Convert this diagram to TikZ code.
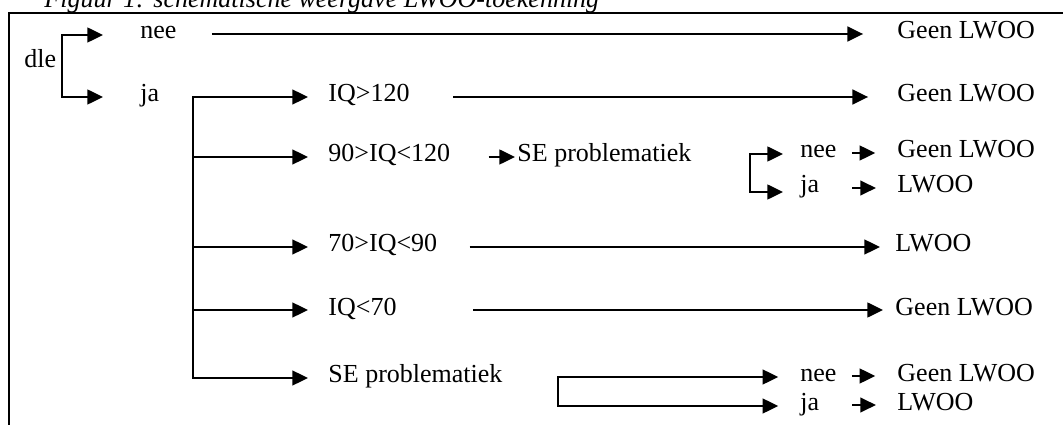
\documentclass[tikz,border=0pt]{standalone}
\usepackage{fontspec}
\setmainfont{Liberation Serif}
\usetikzlibrary{arrows.meta}
\begin{document}
\begin{tikzpicture}[x=0.46pt,y=-0.46pt,
  lbl/.style={anchor=base west,inner sep=0pt,text height=6pt,text depth=1.4pt,
              font=\fontsize{11.96pt}{14pt}\selectfont},
  ln/.style={line width=0.9pt},
  arr/.style={ln,-{Triangle[length=7.2pt,width=6.8pt]}},
  frame/.style={line width=1pt}]
\useasboundingbox (0,0) rectangle (1063,425);
% caption and frame
\node[lbl,font=\fontsize{11.96pt}{14pt}\selectfont\itshape] (capt) at (44,8) {Figuur 1: schematische weergave LWOO-toekenning};
\coordinate (ftl) at (9,13);
\coordinate (ftr) at (1063,13);
\coordinate (fbl) at (9,425);
\draw[frame] (fbl) -- (ftl) -- (ftr);
% labels
\node[lbl] (dle) at (24,68) {dle};
\node[lbl] (nee1) at (140,39) {nee};
\node[lbl] (ja1) at (140,102) {ja};
\node[lbl] (geen1) at (897,39) {Geen LWOO};
\node[lbl] (iq120) at (328,102) {IQ>120};
\node[lbl] (geen2) at (897,102) {Geen LWOO};
\node[lbl] (iq90) at (328,162) {90>IQ<120};
\node[lbl] (se1) at (517,162) {SE problematiek};
\node[lbl] (nee2) at (800,158) {nee};
\node[lbl] (geen3) at (897,158) {Geen LWOO};
\node[lbl] (ja2) at (800,193) {ja};
\node[lbl] (lwoo1) at (897,193) {LWOO};
\node[lbl] (iq7090) at (328,252) {70>IQ<90};
\node[lbl] (lwoo2) at (895,252) {LWOO};
\node[lbl] (iq70) at (328,315) {IQ<70};
\node[lbl] (geen4) at (895,315) {Geen LWOO};
\node[lbl] (se2) at (328,382) {SE problematiek};
\node[lbl] (nee3) at (800,381) {nee};
\node[lbl] (geen5) at (897,381) {Geen LWOO};
\node[lbl] (ja3) at (800,410) {ja};
\node[lbl] (lwoo3) at (897,410) {LWOO};
% bracket 1
\coordinate (b1t) at (62,35);
\coordinate (b1b) at (62,97);
\draw[arr,shorten >=17pt] (b1b) -- (b1t) -- (b1t -| nee1.west);
\draw[arr,shorten >=17pt] (b1t) -- (b1b) -- (b1b -| ja1.west);
\draw[arr,shorten <=16.1pt,shorten >=15.6pt] (nee1.east) -- (geen1.west);
% bracket 2
\coordinate (b2t) at (193,97);
\coordinate (b2c) at (193,157);
\coordinate (b2d) at (193,247);
\coordinate (b2e) at (193,310);
\coordinate (b2b) at (193,378);
\draw[arr,shorten >=9.2pt] (b2b) -- (b2t) -- (b2t -| iq120.west);
\draw[arr,shorten >=9.2pt] (b2c) -- (b2c -| iq90.west);
\draw[arr,shorten >=9.2pt] (b2d) -- (b2d -| iq7090.west);
\draw[arr,shorten >=9.2pt] (b2e) -- (b2e -| iq70.west);
\draw[arr,shorten >=9.2pt] (b2t) -- (b2b) -- (b2b -| se2.west);
% row lines
\draw[arr,shorten <=19.8pt,shorten >=13.3pt] (iq120.east) -- (geen2.west);
\draw[arr,shorten <=17.5pt,shorten >=0.9pt] (iq90.east) -- (se1.west);
\draw[arr,shorten <=14.7pt,shorten >=6.9pt] (iq7090.east) -- (lwoo2.west);
\draw[arr,shorten <=35pt,shorten >=5.5pt] (iq70.east) -- (geen4.west);
% sub-bracket 1
\coordinate (s1t) at (750,154);
\coordinate (s1b) at (750,192);
\draw[arr,shorten >=7.8pt] (s1b) -- (s1t) -- (s1t -| nee2.west);
\draw[arr,shorten >=7.8pt] (s1t) -- (s1b) -- (s1b -| ja2.west);
\draw[arr,shorten <=6.9pt,shorten >=10pt] (nee2.east) -- (geen3.west);
\draw[arr,shorten <=15pt,shorten >=9.7pt] (ja2.east) -- (lwoo1.west);
% sub-bracket 2
\coordinate (s2t) at (558,377);
\coordinate (s2b) at (558,406);
\draw[arr,shorten >=10pt] (s2b) -- (s2t) -- (s2t -| nee3.west);
\draw[arr,shorten >=10pt] (s2t) -- (s2b) -- (s2b -| ja3.west);
\draw[arr,shorten <=6.9pt,shorten >=10pt] (nee3.east) -- (geen5.west);
\draw[arr,shorten <=15pt,shorten >=9.7pt] (ja3.east) -- (lwoo3.west);
\end{tikzpicture}
\end{document}
